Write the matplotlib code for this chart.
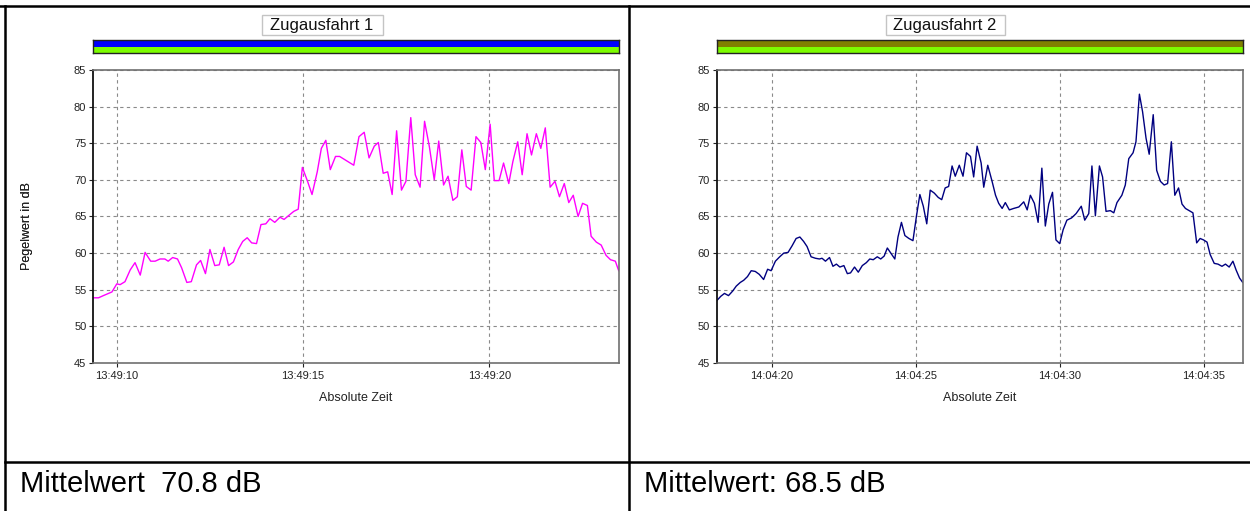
import matplotlib
matplotlib.use("Agg")
import matplotlib.pyplot as plt
from matplotlib.patches import Rectangle
from matplotlib.lines import Line2D

plt.rcParams['font.family'] = ['Liberation Sans', 'DejaVu Sans']

# ---------------- data ----------------
titles = ["Zugausfahrt 1", "Zugausfahrt 2"]
summaries = ["Mittelwert  70.8 dB", "Mittelwert: 68.5 dB"]
y_label = "Pegelwert in dB"
x_label = "Absolute Zeit"
y_ticks = [45, 50, 55, 60, 65, 70, 75, 80, 85]

# run 1: seconds after 13:49:00
t1 = [9.37, 9.51, 9.64, 9.87, 10.0, 10.09, 10.22, 10.36, 10.49, 10.63, 10.76, 10.91,
      11.03, 11.16, 11.29, 11.38, 11.5, 11.63, 11.74, 11.88, 12.0, 12.14, 12.25, 12.38,
      12.5, 12.63, 12.75, 12.88, 13.0, 13.13, 13.26, 13.38, 13.5, 13.62, 13.75, 13.87,
      14.0, 14.11, 14.24, 14.38, 14.49, 14.63, 14.75, 14.87, 14.98, 15.12, 15.24, 15.38,
      15.49, 15.61, 15.73, 15.87, 15.98, 16.36, 16.5, 16.64, 16.77, 16.91, 17.02, 17.15,
      17.27, 17.39, 17.51, 17.64, 17.76, 17.89, 18.01, 18.14, 18.26, 18.39, 18.52, 18.64,
      18.77, 18.89, 19.02, 19.14, 19.26, 19.38, 19.51, 19.64, 19.77, 19.89, 20.02, 20.13,
      20.26, 20.38, 20.52, 20.63, 20.76, 20.88, 21.01, 21.13, 21.26, 21.38, 21.5, 21.63,
      21.76, 21.88, 22.01, 22.13, 22.25, 22.38, 22.5, 22.63, 22.73, 22.87, 23.0, 23.13,
      23.25, 23.38, 23.47]
lvl1 = [53.9, 53.9, 54.2, 54.7, 55.8, 55.7, 56.1, 57.7, 58.7, 57.0, 60.1, 58.9,
        58.9, 59.2, 59.2, 58.9, 59.4, 59.2, 58.0, 56.0, 56.1, 58.4, 59.0, 57.2,
        60.5, 58.3, 58.4, 60.8, 58.3, 58.8, 60.5, 61.6, 62.1, 61.4, 61.3, 63.9,
        64.0, 64.7, 64.2, 64.9, 64.6, 65.2, 65.7, 66.0, 71.7, 69.8, 68.0, 71.1,
        74.3, 75.4, 71.4, 73.2, 73.2, 72.0, 75.9, 76.5, 73.0, 74.6, 75.1, 70.9,
        71.1, 68.0, 76.7, 68.6, 69.8, 78.5, 70.7, 69.0, 78.0, 74.5, 70.0, 75.3,
        69.3, 70.5, 67.2, 67.7, 74.1, 69.1, 68.6, 75.9, 75.1, 71.4, 77.6, 69.9,
        69.9, 72.3, 69.5, 72.5, 75.2, 70.7, 76.3, 73.4, 76.3, 74.3, 77.1, 69.0,
        69.8, 67.7, 69.5, 66.9, 67.9, 65.0, 66.8, 66.5, 62.3, 61.5, 61.1, 59.7,
        59.1, 58.9, 57.6]
xt1 = [10, 15, 20]
xtl1 = ["13:49:10", "13:49:15", "13:49:20"]
xlim1 = (9.37, 23.47)

# run 2: seconds after 14:04:00
t2 = [18.08, 18.22, 18.35, 18.49, 18.63, 18.76, 18.9, 19.02, 19.15, 19.28, 19.42, 19.56,
      19.71, 19.85, 19.97, 20.12, 20.27, 20.41, 20.56, 20.7, 20.84, 20.97, 21.1, 21.22,
      21.36, 21.51, 21.65, 21.74, 21.86, 22.0, 22.12, 22.24, 22.36, 22.5, 22.62, 22.73,
      22.87, 23.0, 23.14, 23.28, 23.4, 23.52, 23.66, 23.78, 23.9, 24.01, 24.13, 24.27,
      24.38, 24.5, 24.62, 24.76, 24.9, 25.02, 25.14, 25.26, 25.38, 25.5, 25.64, 25.78,
      25.9, 26.02, 26.14, 26.26, 26.37, 26.51, 26.64, 26.76, 26.9, 27.01, 27.13, 27.27,
      27.36, 27.5, 27.65, 27.77, 27.88, 28.0, 28.11, 28.25, 28.4, 28.58, 28.75, 28.87,
      28.98, 29.12, 29.25, 29.38, 29.5, 29.62, 29.75, 29.87, 30.0, 30.12, 30.25, 30.41,
      30.57, 30.75, 30.87, 31.01, 31.12, 31.24, 31.38, 31.49, 31.61, 31.76, 31.88, 31.99,
      32.16, 32.28, 32.4, 32.55, 32.65, 32.77, 32.88, 33.0, 33.11, 33.25, 33.37, 33.5,
      33.63, 33.75, 33.88, 34.0, 34.13, 34.25, 34.37, 34.5, 34.63, 34.76, 34.88, 35.0,
      35.12, 35.23, 35.37, 35.5, 35.64, 35.76, 35.89, 36.02, 36.13, 36.25, 36.36]
lvl2 = [53.5, 54.1, 54.5, 54.2, 54.8, 55.5, 56.0, 56.3, 56.8, 57.6, 57.5, 57.1,
        56.4, 57.8, 57.6, 58.9, 59.5, 60.0, 60.1, 61.0, 62.0, 62.2, 61.6, 60.9,
        59.5, 59.3, 59.2, 59.3, 58.9, 59.4, 58.2, 58.5, 58.1, 58.3, 57.2, 57.3,
        58.1, 57.4, 58.3, 58.7, 59.2, 59.1, 59.5, 59.2, 59.6, 60.7, 60.0, 59.2,
        62.2, 64.2, 62.4, 62.0, 61.7, 65.0, 68.0, 66.4, 64.0, 68.6, 68.2, 67.6,
        67.3, 68.9, 69.1, 71.9, 70.5, 72.0, 70.5, 73.7, 73.2, 70.4, 74.6, 72.3,
        69.0, 72.0, 69.8, 67.9, 66.8, 66.1, 66.9, 65.9, 66.1, 66.3, 67.0, 65.9,
        67.9, 66.8, 64.2, 71.6, 63.7, 66.7, 68.3, 61.8, 61.3, 63.2, 64.5, 64.8,
        65.4, 66.4, 64.5, 65.4, 71.9, 65.1, 71.9, 70.4, 65.7, 65.8, 65.5, 66.9,
        67.9, 69.3, 72.9, 73.7, 75.2, 81.7, 79.3, 75.7, 73.5, 78.9, 71.3, 69.8,
        69.3, 69.5, 75.2, 67.9, 68.9, 66.7, 66.1, 65.8, 65.5, 61.4, 62.0, 61.8,
        61.5, 59.8, 58.6, 58.5, 58.2, 58.5, 58.1, 58.9, 57.7, 56.6, 56.0]
xt2 = [20, 25, 30, 35]
xtl2 = ["14:04:20", "14:04:25", "14:04:30", "14:04:35"]
xlim2 = (18.08, 36.37)

line_colors = ["#FF00FF", "#000080"]
bar_colors = [("#0000FF", "#7CFC00"), ("#808000", "#7CFC00")]

# ---------------- layout ----------------
W, H = 1250, 511
fig = plt.figure(figsize=(W / 100, H / 100), dpi=100)
fig.patch.set_facecolor("white")


def fx(px):
    return px / W


def fy(py):
    return 1 - py / H


panels = [
    dict(left=93.3, right=618.7, title_cx=322, box=(262, 383), text_x=20,
         t=t1, v=lvl1, xt=xt1, xtl=xtl1, xlim=xlim1),
    dict(left=716.7, right=1243, title_cx=945, box=(886, 1005), text_x=644,
         t=t2, v=lvl2, xt=xt2, xtl=xtl2, xlim=xlim2),
]
ax_top, ax_bot = 70, 363

for i, p in enumerate(panels):
    ax = fig.add_axes([fx(p["left"]), fy(ax_bot), fx(p["right"] - p["left"]),
                       (ax_bot - ax_top) / H])
    ax.plot(p["t"], p["v"], color=line_colors[i], lw=1.0)
    ax.set_xlim(*p["xlim"])
    ax.set_ylim(45, 85)
    ax.set_yticks(y_ticks)
    ax.set_xticks(p["xt"])
    ax.set_xticklabels(p["xtl"])
    ax.grid(True, color="#8a8a8a", linestyle=(0, (3, 3)), lw=0.8)
    ax.tick_params(labelsize=8, length=3, width=0.8, pad=2, colors="#222222")
    ax.tick_params(axis="x", pad=3)
    for s in ["top", "right", "bottom"]:
        ax.spines[s].set_color("#707070")
        ax.spines[s].set_linewidth(1.2)
    ax.spines["left"].set_color("#111111")
    ax.spines["left"].set_linewidth(1.3)
    ax.set_xlabel(x_label, fontsize=9, color="#222222")
    ax.xaxis.set_label_coords(0.5, -(392 - ax_bot) / (ax_bot - ax_top))
    ax.set_ylabel(y_label, fontsize=9, color="#222222")
    ax.yaxis.set_label_coords(-(p["left"] - 33) / (p["right"] - p["left"]),
                              (ax_bot - 226) / (ax_bot - ax_top))

    # status bar
    bx = fig.add_axes([fx(p["left"]), fy(53.3), fx(p["right"] - p["left"]), 13.3 / H])
    bx.set_xlim(0, 1)
    bx.set_ylim(0, 2)
    bx.barh([1.5, 0.5], [1, 1], height=1, left=0, color=list(bar_colors[i]),
            edgecolor="none")
    bx.set_xticks([])
    bx.set_yticks([])
    for s in bx.spines.values():
        s.set_color("#222222")
        s.set_linewidth(1.0)

    # title box
    b0, b1 = p["box"]
    fig.add_artist(Rectangle((fx(b0), fy(35)), fx(b1 - b0), 20 / H,
                             transform=fig.transFigure, facecolor="white",
                             edgecolor="#c4c4c4", lw=1.0))
    fig.text(fx(p["title_cx"]), fy(30), titles[i], ha="center", va="baseline",
             fontsize=12, color="#111111")

    # summary text
    fig.text(fx(p["text_x"]), fy(492), summaries[i], ha="left", va="baseline",
             fontsize=21, color="black")

# table lines
lw_tab = 1.8
for (x0, y0, x1, y1) in [(0, 6.5, W, 6.5), (5, 6.5, 5, H), (629, 6.5, 629, H),
                         (5, 462, W, 462)]:
    fig.add_artist(Line2D([fx(x0), fx(x1)], [fy(y0), fy(y1)],
                          transform=fig.transFigure, color="black", lw=lw_tab))

fig.savefig("out.png", dpi=100)
